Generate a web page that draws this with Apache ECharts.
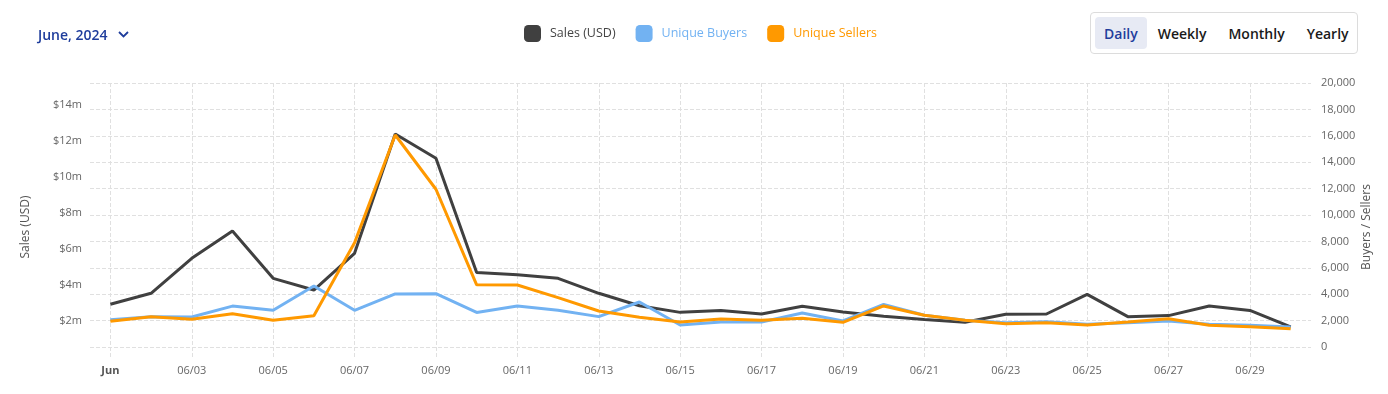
<!DOCTYPE html>
<html>
<head>
<meta charset="utf-8">
<title>Sales / Buyers / Sellers - June 2024</title>
<script src="https://cdn.jsdelivr.net/npm/echarts@6/dist/echarts.min.js"></script>
<style>
  html, body { margin: 0; padding: 0; background: #fff; font-family: "Open Sans", sans-serif; }
  .wrap { position: relative; width: 1388px; height: 394px; }
  #chart { position: absolute; left: 0; top: 0; width: 1388px; height: 394px; }
  .month {
    position: absolute; left: 38px; top: 23px; height: 22px;
    display: flex; align-items: center;
    font-size: 14px; font-weight: 600; color: #1f3d9c;
  }
  .month svg { margin-left: 10px; }
  .range {
    position: absolute; left: 1090px; top: 12px; box-sizing: border-box;
    width: 268px; height: 42px; padding: 4px;
    border: 1px solid #dcdcdc; border-radius: 4px; background: #fff;
    display: flex;
  }
  .range span {
    display: flex; align-items: center; height: 32px; padding: 0 11px;
    font-size: 14px; font-weight: 600; color: #1a1a1a; border-radius: 4px;
  }
  .range span.on { background: #e7eaf4; color: #1f3d9c; padding: 0 9px; }
</style>
</head>
<body>
<div class="wrap">
  <div id="chart"></div>
  <div class="month">June, 2024
    <svg width="11" height="7" viewBox="0 0 11 7"><path d="M1 1 L5.5 5.5 L10 1" fill="none" stroke="#1f3d9c" stroke-width="1.8"/></svg>
  </div>
  <div class="range">
    <span class="on">Daily</span><span>Weekly</span><span>Monthly</span><span>Yearly</span>
  </div>
</div>
<script>
// 日期 (day labels)
var days = ["06/01", "06/02", "06/03", "06/04", "06/05", "06/06", "06/07", "06/08", "06/09", "06/10",
  "06/11", "06/12", "06/13", "06/14", "06/15", "06/16", "06/17", "06/18", "06/19", "06/20",
  "06/21", "06/22", "06/23", "06/24", "06/25", "06/26", "06/27", "06/28", "06/29", "06/30"];

// Sales in USD
var sales = [2930000, 3540000, 5480000, 7000000, 4370000, 3720000, 5760000, 12390000, 11040000, 4700000,
  4570000, 4370000, 3540000, 2850000, 2480000, 2590000, 2390000, 2820000, 2500000, 2260000,
  2090000, 1930000, 2370000, 2390000, 3480000, 2240000, 2300000, 2830000, 2590000, 1680000];

var buyers = [2070, 2300, 2270, 3100, 2780, 4620, 2780, 4020, 4040, 2620,
  3100, 2780, 2300, 3410, 1670, 1890, 1890, 2580, 1970, 3230,
  2400, 2020, 1840, 1920, 1720, 1840, 1970, 1720, 1640, 1520];

var sellers = [1950, 2300, 2100, 2520, 2020, 2370, 7900, 16060, 11950, 4710,
  4700, 3740, 2730, 2250, 1890, 2120, 2020, 2170, 1870, 3110,
  2400, 2020, 1770, 1840, 1670, 1890, 2140, 1640, 1540, 1390];

// tick positions (day index) and left axis labels
var dayTicks = [0, 2, 4, 6, 8, 10, 12, 14, 16, 18, 20, 22, 24, 26, 28];
var salesTicks = [2000000, 4000000, 6000000, 8000000, 10000000, 12000000, 14000000];

var gridLine = { color: "#e0e0e0", type: "dashed", width: 1 };
var labelFont = "Open Sans";

var myChart = echarts.init(document.getElementById("chart"));

var option = {
  animation: false,
  legend: {
    left: 519,
    top: 20,
    icon: "roundRect",
    itemWidth: 17,
    itemHeight: 17,
    itemGap: 20,
    textStyle: { fontSize: 12.5, fontFamily: labelFont, padding: [0, 0, 0, 4] },
    data: [
      { name: "Sales (USD)", textStyle: { color: "#444444" } },
      { name: "Unique Buyers", textStyle: { color: "#72b2f2" } },
      { name: "Unique Sellers", textStyle: { color: "#ff9900" } },
    ],
  },
  grid: { left: 90, right: 77, top: 83, bottom: 47 },
  xAxis: {
    type: "value",
    min: -0.5,
    max: 29.5,
    splitNumber: 15,
    axisLine: { show: false },
    axisTick: { show: true, length: 10, customValues: dayTicks, lineStyle: gridLine },
    axisLabel: {
      customValues: dayTicks,
      margin: 18,
      color: "#666",
      fontSize: 11,
      fontFamily: labelFont,
      formatter: function (v) {
        return v === 0 ? "{b|Jun}" : days[v];
      },
      rich: { b: { fontWeight: "bold", color: "#555", fontSize: 11, fontFamily: labelFont } },
    },
    splitLine: { show: true, lineStyle: gridLine },
  },
  yAxis: [
    {
      type: "value",
      position: "left",
      min: 556000,
      max: 15222000,
      name: "Sales (USD)",
      nameLocation: "middle",
      nameGap: 58,
      nameMoveOverlap: false,
      nameTextStyle: { color: "#555", fontSize: 12, fontFamily: labelFont, padding: [0, 24, 0, 0] },
      axisLine: { show: false },
      axisTick: { show: false },
      splitLine: { show: false },
      axisLabel: {
        customValues: salesTicks,
        margin: 8,
        color: "#666",
        fontSize: 11,
        fontFamily: labelFont,
        formatter: function (v) {
          return "$" + Math.round(v / 1000000) + "m";
        },
      },
    },
    {
      type: "value",
      position: "right",
      min: 0,
      max: 20000,
      interval: 2000,
      name: "Buyers / Sellers",
      nameLocation: "middle",
      nameGap: 50,
      nameMoveOverlap: false,
      nameTextStyle: { color: "#555", fontSize: 12, fontFamily: labelFont, padding: [0, 24, 0, 0] },
      axisLine: { show: false },
      axisTick: { show: false },
      splitLine: { show: true, lineStyle: gridLine },
      axisLabel: {
        margin: 10,
        color: "#666",
        fontSize: 11,
        fontFamily: labelFont,
        formatter: function (v) {
          return v.toLocaleString("en-US");
        },
      },
    },
  ],
  series: [
    {
      name: "Sales (USD)",
      type: "line",
      yAxisIndex: 0,
      data: sales.map(function (v, i) { return [i, v]; }),
      symbol: "none",
      lineStyle: { width: 3, color: "#404040" },
      itemStyle: { color: "#404040" },
    },
    {
      name: "Unique Buyers",
      type: "line",
      yAxisIndex: 1,
      data: buyers.map(function (v, i) { return [i, v]; }),
      symbol: "none",
      lineStyle: { width: 3, color: "#72b2f2" },
      itemStyle: { color: "#72b2f2" },
    },
    {
      name: "Unique Sellers",
      type: "line",
      yAxisIndex: 1,
      data: sellers.map(function (v, i) { return [i, v]; }),
      symbol: "none",
      lineStyle: { width: 3, color: "#ff9900" },
      itemStyle: { color: "#ff9900" },
    },
  ],
};

myChart.setOption(option);
</script>
</body>
</html>
